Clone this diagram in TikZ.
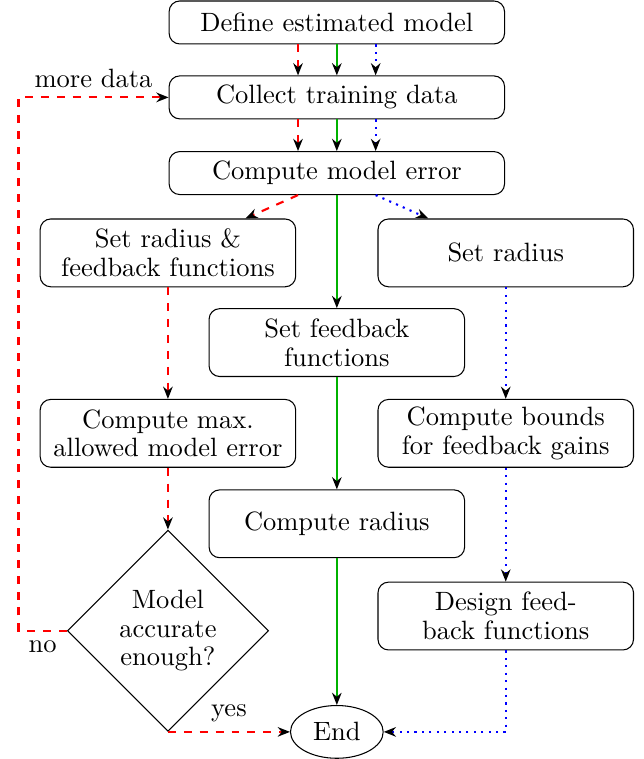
\documentclass[tikz,border=0pt]{standalone}
\usepackage{amsmath,amsfonts}
\usepackage{tikz}
\usetikzlibrary{positioning,shapes.geometric,arrows.meta}
\tikzset{wide node/.style={rectangle,rounded corners,draw,minimum width=4.45cm,minimum height=0.57cm,inner sep=2pt,align=center,font=\fontsize{10}{10.8}\selectfont},
box node/.style={rectangle,rounded corners,draw,minimum width=3.39cm,minimum height=0.9cm,inner sep=2pt,align=center,font=\fontsize{10}{10.8}\selectfont},
dec node/.style={diamond,draw,minimum width=2.67cm,minimum height=2.67cm,aspect=1,inner sep=0pt,align=center,font=\fontsize{10}{10.8}\selectfont},
end node/.style={ellipse,draw,minimum width=1.23cm,minimum height=0.7cm,inner sep=0pt},
red path/.style={red,dashed,-{Stealth[black,length=4.6pt,width=3.6pt]}},
green path/.style={green!70!black,-{Stealth[black,length=4.6pt,width=3.6pt]}},
blue path/.style={blue,dotted,-{Stealth[black,length=4.6pt,width=3.6pt]}},
}

\begin{document}
\begin{tikzpicture}
			\useasboundingbox (0,0) rectangle (8.54,-10.07);
			
			%% common part
			\node[wide node] (define) at (4.469,-0.298) {Define estimated model};
			\node[wide node] (collect) [below = 0.41cm of define] {Collect training data};
			\node[wide node] (error) [below = 0.42cm of collect] {Compute model error};
			
			%% three branches
			\node[box node] (radfb) [below = 0.31cm of error, xshift=-2.241cm] {Set radius \&\\feedback functions};
			\node[box node] (rad) [below = 0.31cm of error, xshift=2.241cm] {Set radius};
			\node[box node] (setfb) [below = 1.5cm of error] {Set feedback\\functions};
			\node[box node] (maxerr) [below = 1.48cm of radfb] {Compute max.\\allowed model error};
			\node[box node] (bounds) [below = 1.48cm of rad] {Compute bounds\\for feedback gains};
			\node[box node] (comprad) [below = 1.49cm of setfb] {Compute radius};
			\node[box node] (design) [below = 1.51cm of bounds] {Design feed-\\back functions};
			\node[dec node] (dec) [below = 0.82cm of maxerr] {Model\\accurate\\enough?};
			\node[end node] (end) at (comprad |- dec.south) {End};
			
			\path[draw,thick]
			([xshift=-0.515cm]define.south) edge[red path] ([xshift=-0.515cm]collect.north)
			(define) edge[green path] (collect)
			([xshift=0.515cm]define.south) edge[blue path] ([xshift=0.515cm]collect.north)
			([xshift=-0.515cm]collect.south) edge[red path] ([xshift=-0.515cm]error.north)
			(collect) edge[green path] (error)
			([xshift=0.515cm]collect.south) edge[blue path] ([xshift=0.515cm]error.north)
			([xshift=-0.515cm]error.south) edge[red path] (radfb)
			(error) edge[green path] (setfb)
			([xshift=0.515cm]error.south) edge[blue path] (rad)
			(radfb) edge[red path] (maxerr)
			(maxerr) edge[red path] (dec)
			(setfb) edge[green path] (comprad)
			(comprad) edge[green path] (end)
			(rad) edge[blue path] (bounds)
			(bounds) edge[blue path] (design)
			;
			
			\draw[thick,red path] (dec.south) -- node[above,text=black] {yes} (end);
			\draw[thick,blue path] (design.south) |- (end);
			\draw[thick,red path] (dec.west) -- node[below,text=black] {no} ++(-0.64,0) |- node[pos=0.75,above,text=black] {more data} (collect.west);
			\end{tikzpicture}
\end{document}
